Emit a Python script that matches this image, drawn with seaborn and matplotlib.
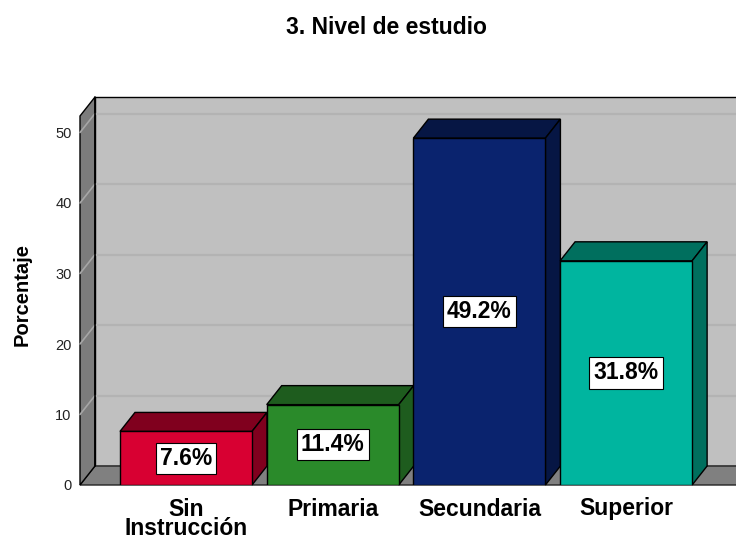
import matplotlib
matplotlib.use("Agg")
import matplotlib.pyplot as plt
from matplotlib.patches import Polygon
import seaborn as sns

# ---- data ----
categories = ["Sin\nInstrucción", "Primaria", "Secundaria", "Superior"]
values = [7.6, 11.4, 49.2, 31.8]
value_labels = ["7.6%", "11.4%", "49.2%", "31.8%"]
yticks = [0, 10, 20, 30, 40, 50]
front_colors = ["#d80032", "#2a8a2a", "#0a236e", "#00b59f"]
dark_colors = ["#80001e", "#1e5c1e", "#061644", "#006f5e"]
title = "3. Nivel de estudio"
ylabel = "Porcentaje"

sns.set_style("white")
plt.rcParams["font.family"] = ["Liberation Sans", "DejaVu Sans"]
plt.rcParams["text.color"] = "black"
plt.rcParams["xtick.color"] = "black"
plt.rcParams["ytick.color"] = "black"

W, H = 736, 541
fig = plt.figure(figsize=(W / 100, H / 100), dpi=100)

# geometry in pixels
ax_left_px, ax_right_px = 80, 732
ax_bottom_px, ax_top_px = 485, 116
px_per_unit = 7.05
bar_spacing = 146.7
first_center = 186
ddx_px, ddy_px = 15, 19

ax = fig.add_axes([ax_left_px / W, (H - ax_bottom_px) / H,
                   (ax_right_px - ax_left_px) / W, (ax_bottom_px - ax_top_px) / H])
xl = (ax_left_px - first_center) / bar_spacing
xr = (ax_right_px - first_center) / bar_spacing
ytop = (ax_bottom_px - ax_top_px) / px_per_unit
dxd = ddx_px / bar_spacing
dyd = ddy_px / px_per_unit

df_x = list(range(len(categories)))
sns.barplot(x=categories, y=values, hue=categories, palette=front_colors,
            width=0.9, edgecolor="black", linewidth=1.0, legend=False,
            ax=ax, zorder=3, saturation=1)
bars = list(ax.patches)
ax.set_xlim(xl, xr)
ax.set_ylim(0, ytop)
ax.patch.set_visible(False)
for s in ax.spines.values():
    s.set_visible(False)

# back wall
far = xr + 3
ax.add_patch(Polygon([(xl + dxd, dyd), (far, dyd), (far, ytop + dyd), (xl + dxd, ytop + dyd)],
                     closed=True, fc="#c0c0c0", ec="black", lw=1.0, zorder=0.5, clip_on=False))
# floor
ax.add_patch(Polygon([(xl, 0), (far, 0), (far + dxd, dyd), (xl + dxd, dyd)],
                     closed=True, fc="#808080", ec="#222222", lw=1.0, zorder=0.8, clip_on=False))
# left wall
ax.add_patch(Polygon([(xl, 0), (xl + dxd, dyd), (xl + dxd, ytop + dyd), (xl, ytop)],
                     closed=True, fc="#7c7c7c", ec="black", lw=1.0, zorder=0.9, clip_on=False))
# gridlines
for v in yticks[1:]:
    ax.plot([xl + dxd, far], [v + dyd, v + dyd], color="#b3b3b3", lw=1.6,
            zorder=0.6, clip_on=False)
    ax.plot([xl, xl + dxd], [v, v + dyd], color="#a6a6a6", lw=1.2,
            zorder=1.0, clip_on=False)
ax.plot([xl + dxd, xl + dxd], [dyd, ytop + dyd], color="black", lw=1.2, zorder=1.1, clip_on=False)

# 3D tops and sides
for b, dc, lab in zip(bars, dark_colors, value_labels):
    x0 = b.get_x()
    x1 = x0 + b.get_width()
    h = b.get_height()
    ax.add_patch(Polygon([(x0, h), (x1, h), (x1 + dxd, h + dyd), (x0 + dxd, h + dyd)],
                         closed=True, fc=dc, ec="black", lw=1.0, zorder=2.5, clip_on=False))
    ax.add_patch(Polygon([(x1, 0), (x1 + dxd, dyd), (x1 + dxd, h + dyd), (x1, h)],
                         closed=True, fc=dc, ec="black", lw=1.0, zorder=2.5, clip_on=False))
    ax.text((x0 + x1) / 2, h / 2, lab, ha="center", va="center", fontsize=16.5,
            fontweight="bold", color="black", zorder=5,
            bbox=dict(boxstyle="square,pad=0.18", fc="white", ec="black", lw=0.8))

ax.set_yticks(yticks)
ax.set_yticklabels([str(t) for t in yticks], fontsize=10.5, color="#222222")
ax.set_xticks(df_x)
ax.set_xticklabels(categories, fontsize=16.5, fontweight="bold", linespacing=0.82,
                   color="black")
ax.tick_params(axis="y", length=0, pad=6)
ax.tick_params(axis="x", length=0, pad=9)
ax.set_xlabel("")
ax.set_ylabel("")

fig.text(386 / W, 1 - 28 / H, title, ha="center", va="center", fontsize=16.5,
         fontweight="bold", color="black")
fig.text(22 / W, 1 - 295 / H, ylabel, ha="center", va="center", rotation=90,
         fontsize=14.5, fontweight="bold", color="black")

fig.savefig("out.png", dpi=100)
